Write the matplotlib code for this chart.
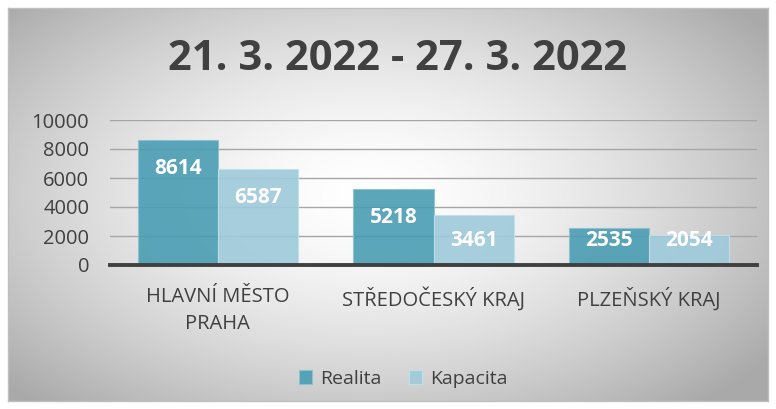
import numpy as np
import matplotlib
matplotlib.use("Agg")
import matplotlib.pyplot as plt
from matplotlib import font_manager as fm

title = "21. 3. 2022 - 27. 3. 2022"
categories = ["HLAVNÍ MĚSTO\nPRAHA", "STŘEDOČESKÝ KRAJ", "PLZEŇSKÝ KRAJ"]
realita = [8614, 5218, 2535]
kapacita = [6587, 3461, 2054]
series_names = ["Realita", "Kapacita"]
yticks = [0, 2000, 4000, 6000, 8000, 10000]

avail = {f.name for f in fm.fontManager.ttflist}
fam = "Liberation Sans Narrow" if "Liberation Sans Narrow" in avail else "Open Sans"
plt.rcParams['font.family'] = [fam, 'DejaVu Sans']

W, H = 776, 409
fig = plt.figure(figsize=(W/100, H/100), dpi=100)
fig.patch.set_facecolor("white")

# background gradient box
bx0, by0, bx1, by1 = 8, 8, 768, 401
bg = fig.add_axes([bx0/W, 1-by1/H, (bx1-bx0)/W, (by1-by0)/H])
gx = np.linspace(-1, 1, 400)
gy = np.linspace(-1, 1, 200)
X, Y = np.meshgrid(gx, gy)
R = np.sqrt(((X+0.05)/1.0)**2 + ((Y+0.05)/1.1)**2)
vals = 1.0 - 0.22*np.clip(R, 0, 1.3)**1.6
bg.imshow(np.dstack([vals]*3), aspect='auto', extent=[0, 1, 0, 1], interpolation='bilinear')
bg.set_xticks([]); bg.set_yticks([])
for s in bg.spines.values():
    s.set_color("#bfbfbf")
    s.set_linewidth(1)
bg.set_zorder(0)

# plot area
px0, px1 = 110, 757
py_top, py_bot = 120, 265
ax = fig.add_axes([px0/W, 1-py_bot/H, (px1-px0)/W, (py_bot-py_top)/H])
ax.set_zorder(1)
ax.patch.set_alpha(0)
ax.set_ylim(0, 10000)
ax.set_xlim(-0.5, 2.5)
x = np.arange(len(categories))
bw = 0.372
c1 = "#4a9db3"
c2 = "#9ecada"
ax.bar(x - bw/2, realita, bw, color=c1, alpha=0.9, edgecolor="#8cc3d2", linewidth=0.8, zorder=2, label=series_names[0])
ax.bar(x + bw/2, kapacita, bw, color=c2, alpha=0.9, edgecolor="#c3e0ea", linewidth=0.8, zorder=2, label=series_names[1])
for xs, vs in ((x - bw/2, realita), (x + bw/2, kapacita)):
    for xi, v in zip(xs, vs):
        ax.text(xi, max(v - 1950, 1720), f"{v}", ha='center', va='center', color='white',
                fontsize=15, fontweight='bold', zorder=4)

ax.set_yticks(yticks)
ax.set_yticklabels([str(t) for t in yticks])
ax.yaxis.grid(True, color="#a6a6a6", linewidth=1, zorder=1)
ax.set_axisbelow(True)
ax.tick_params(axis='y', length=0, labelsize=14.5, labelcolor="#404040", pad=15)
ax.set_xticks(x)
ax.set_xticklabels(categories, linespacing=1.45)
ax.tick_params(axis='x', length=0, labelsize=14.5, labelcolor="#404040", pad=16)
for s in ["top", "right", "left"]:
    ax.spines[s].set_visible(False)
ax.spines["bottom"].set_color("#404040")
ax.spines["bottom"].set_linewidth(2.8)
ax.spines["bottom"].set_zorder(5)

fig.text(398/W, 1-60/H, title, ha='center', va='center', fontsize=30, fontweight='bold', color="#404040")

leg = fig.legend(loc='center', bbox_to_anchor=(403/W, 1-379/H), ncol=2, frameon=False,
                 fontsize=14, handlelength=0.7, handleheight=0.7, handletextpad=0.4, columnspacing=1.4)
for t in leg.get_texts():
    t.set_color("#404040")

fig.savefig("out.png", dpi=100)
